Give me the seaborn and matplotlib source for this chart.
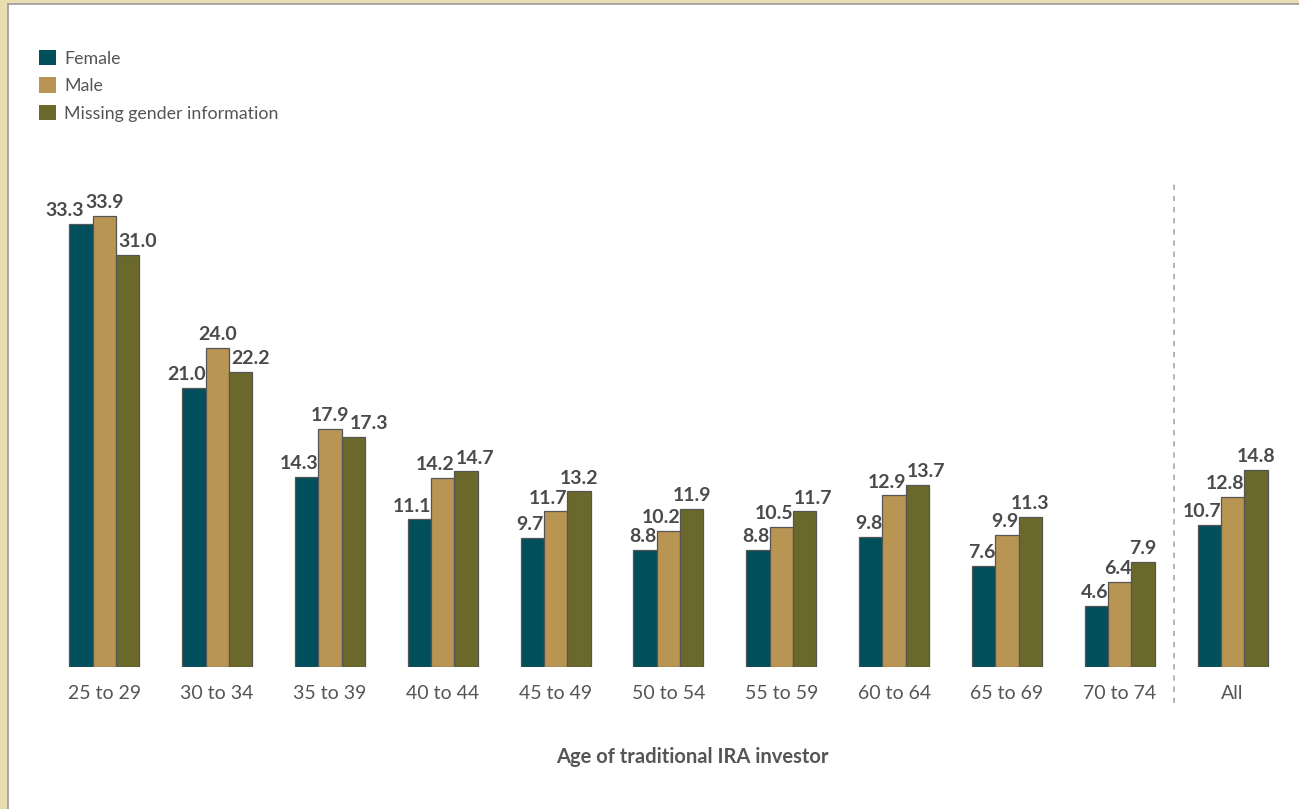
import matplotlib
matplotlib.use("Agg")
import matplotlib.pyplot as plt
from matplotlib.patches import Rectangle, Patch
from matplotlib.lines import Line2D
import seaborn as sns
import pandas as pd

# Share of traditional IRA investors, by age group and gender (percent)
age_groups = ["25 to 29", "30 to 34", "35 to 39", "40 to 44", "45 to 49",
              "50 to 54", "55 to 59", "60 to 64", "65 to 69", "70 to 74", "All"]
genders = ["Female", "Male", "Missing gender information"]
female = [33.3, 21.0, 14.3, 11.1, 9.7, 8.8, 8.8, 9.8, 7.6, 4.6, 10.7]
male = [33.9, 24.0, 17.9, 14.2, 11.7, 10.2, 10.5, 12.9, 9.9, 6.4, 12.8]
missing = [31.0, 22.2, 17.3, 14.7, 13.2, 11.9, 11.7, 13.7, 11.3, 7.9, 14.8]

colors = ["#004F5A", "#B99553", "#6A682B"]
text_color = "#555555"
label_color = "#4A4A4A"

rows = []
for g, vals in zip(genders, [female, male, missing]):
    for a, v in zip(age_groups, vals):
        rows.append({"age": a, "gender": g, "value": v})
df = pd.DataFrame(rows)

sns.set_theme(style="white")
plt.rcParams["font.family"] = ["Lato", "DejaVu Sans"]

W, H = 1299, 809
fig = plt.figure(figsize=(W / 100, H / 100), dpi=100)
fig.patch.set_facecolor("#E9DEB1")

# white page with a thin grey rule on its top and left
fig.add_artist(Rectangle((8 / W, 0), 1, 1 - 4 / H, transform=fig.transFigure,
                         facecolor="white", edgecolor="none", zorder=0))
fig.add_artist(Line2D([8 / W, 8 / W], [0, 1 - 4 / H], transform=fig.transFigure,
                      color="#9A9A9A", lw=1.2, zorder=1))
fig.add_artist(Line2D([8 / W, 1], [1 - 4 / H, 1 - 4 / H], transform=fig.transFigure,
                      color="#9A9A9A", lw=1.2, zorder=1))

px_per_unit = 13.3
base_px = 667
ymax = 36.0
left_px, right_px = 31, 1289
ax = fig.add_axes([left_px / W, (H - base_px) / H, (right_px - left_px) / W,
                   ymax * px_per_unit / H])
ax.patch.set_alpha(0)

sns.barplot(data=df, x="age", y="value", hue="gender", order=age_groups,
            hue_order=genders, palette=colors, width=0.62, gap=0,
            edgecolor="#555555", linewidth=0.9, saturation=1, ax=ax,
            legend=False, errorbar=None)

ax.set_xlim(-0.65, 10.5)
ax.set_ylim(0, ymax)
sns.despine(ax=ax, left=True, bottom=True)
ax.set_yticks([])
ax.set_ylabel("")
ax.set_xlabel("Age of traditional IRA investor", fontsize=14.5, fontweight="bold",
              color=text_color)
ax.xaxis.set_label_coords((692 - left_px) / (right_px - left_px), -0.168)
ax.tick_params(axis="x", length=0, pad=13, labelsize=14, labelcolor=text_color)

# value labels above each bar
labels = []
for cont in ax.containers:
    row = []
    for bar, val in zip(cont, cont.datavalues):
        t = ax.annotate(f"{val:.1f}", (bar.get_x() + bar.get_width() / 2, bar.get_height()),
                        xytext=(0, 3.5), textcoords="offset points", ha="center",
                        va="bottom", fontsize=14, fontweight="bold", color=label_color)
        row.append(t)
    labels.append(row)

# keep each label clear of taller neighbouring bars and of the male label
fig.canvas.draw()
renderer = fig.canvas.get_renderer()
pt = 72 / fig.dpi
for j in range(len(age_groups)):
    bb = [ax.containers[i][j].get_window_extent(renderer) for i in range(3)]
    for i in range(3):
        tb = labels[i][j].get_window_extent(renderer)
        dx = 0.0
        if i < 2 and bb[i + 1].y1 > tb.y0 and tb.x1 > bb[i + 1].x0:
            dx = bb[i + 1].x0 - tb.x1
        if i > 0 and bb[i - 1].y1 > tb.y0 and tb.x0 < bb[i - 1].x1:
            dx = bb[i - 1].x1 - tb.x0 + 2
        labels[i][j].xyann = (dx * pt, 3.5)
    fig.canvas.draw()
    tf = labels[0][j].get_window_extent(renderer)
    tm = labels[1][j].get_window_extent(renderer)
    tx = labels[2][j].get_window_extent(renderer)
    if tf.y0 < tm.y1 and tm.y0 < tf.y1 and tf.x1 > tm.x0:
        x0, y0 = labels[0][j].xyann
        labels[0][j].xyann = (x0 - (tf.x1 - tm.x0 + 1) * pt, y0)
    if tx.y0 < tm.y1 and tm.y0 < tx.y1 and tm.x1 > tx.x0:
        x0, y0 = labels[2][j].xyann
        labels[2][j].xyann = (x0 + (tm.x1 - tx.x0 + 1) * pt, y0)

# dashed separator before the "All" group
ax.plot([9.48, 9.48], [(base_px - 703) / px_per_unit, (base_px - 180) / px_per_unit],
        color="#A0A0A0", lw=1.1, ls=(0, (3.5, 3.8)), clip_on=False)

handles = [Patch(facecolor=c, edgecolor="none", label=g) for c, g in zip(colors, genders)]
leg = fig.legend(handles=handles, loc="upper left",
                 bbox_to_anchor=(39 / W, 1 - 50 / H), bbox_transform=fig.transFigure,
                 frameon=False, fontsize=12.8, handlelength=0.95, handleheight=0.95,
                 handletextpad=0.45, labelspacing=0.6, borderpad=0, borderaxespad=0)
for t in leg.get_texts():
    t.set_color(text_color)

fig.savefig("out.png", dpi=100, facecolor=fig.get_facecolor())
